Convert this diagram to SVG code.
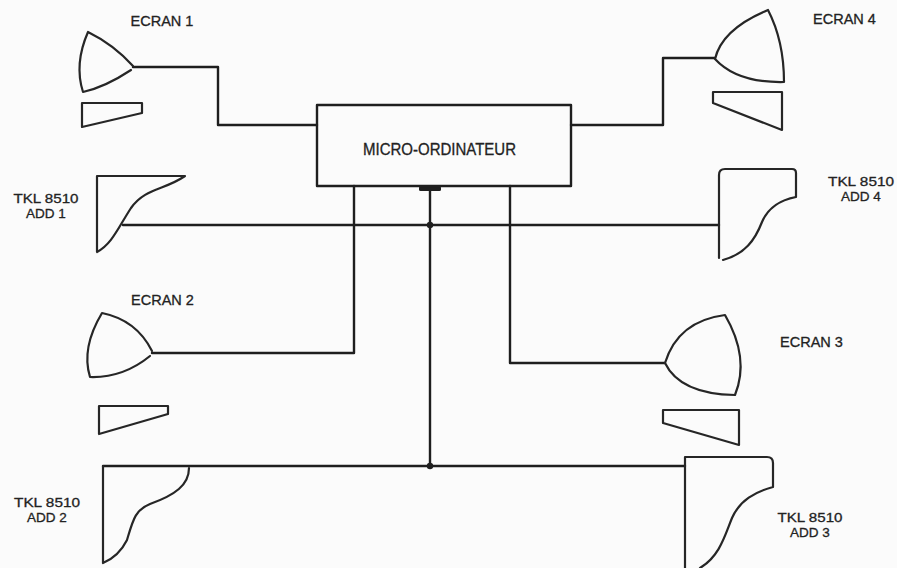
<svg xmlns="http://www.w3.org/2000/svg" width="897" height="568" viewBox="0 0 897 568">
  <style>
    .ln { fill: none; stroke: #1e1e1e; stroke-width: 2.4; stroke-linejoin: round; stroke-linecap: round; }
    .sh { fill: none; stroke: #262626; stroke-width: 2.2; stroke-linejoin: round; stroke-linecap: round; }
    .lbl { font-family: "Liberation Sans", Arial, sans-serif; font-size: 14.5px; fill: #222; stroke: #222; stroke-width: 0.3; text-anchor: middle; }
    .tkl { font-family: "Liberation Sans", Arial, sans-serif; font-size: 13.5px; fill: #222; stroke: #222; stroke-width: 0.3; text-anchor: middle; }
  </style>
  <rect width="897" height="568" fill="#fbfbfb"/>

  <!-- wiring -->
  <g id="connectors">
    <path class="ln" d="M133,67 H218 V125 H317"/>
    <path class="ln" d="M571,125 H663 V58 H715"/>
    <path class="ln" d="M354,186 V353 H152"/>
    <path class="ln" d="M510,186 V363 H665"/>
    <path class="ln" d="M430,188 V466"/>
    <path class="ln" d="M123,225 H719"/>
    <path class="ln" d="M103,466 H685"/>
    <rect x="419" y="186" width="22" height="5" rx="1.5" fill="#1e1e1e"/>
    <circle cx="430" cy="225" r="3.2" fill="#1e1e1e"/>
    <circle cx="430" cy="466" r="3.2" fill="#1e1e1e"/>
  </g>

  <!-- central computer -->
  <g id="micro">
    <rect class="ln" x="317" y="105" width="254" height="81"/>
    <text x="439.5" y="155" font-family="Liberation Sans, Arial, sans-serif" font-size="16" fill="#222" stroke="#222" stroke-width="0.3" text-anchor="middle" textLength="153" lengthAdjust="spacingAndGlyphs">MICRO-ORDINATEUR</text>
  </g>

  <!-- screen 1 with keyboard -->
  <g id="ecran1">
    <path class="sh" d="M133,66 Q113.5,44.5 88,32 Q74,64 83,92 Q105.3,87 131,70"/>
    <path class="sh" d="M82,103 H142 V113 L82,127 Z"/>
    <text class="lbl" x="162" y="26">ECRAN 1</text>
  </g>

  <!-- screen 4 with keyboard -->
  <g id="ecran4">
    <path class="sh" d="M715,59 Q722,29 768,10 Q784,41 784,82 Q737,83 715,59"/>
    <path class="sh" d="M713,92 H782 V130 L713,103 Z"/>
    <text class="lbl" x="844.5" y="24">ECRAN 4</text>
  </g>

  <!-- screen 2 with keyboard -->
  <g id="ecran2">
    <path class="sh" d="M152,351 Q136.5,320 102,313 Q81,348 90,377 Q123,378 150,356"/>
    <path class="sh" d="M99,406 H168 V414 L99,434 Z"/>
    <text class="lbl" x="162.5" y="305">ECRAN 2</text>
  </g>

  <!-- screen 3 with keyboard -->
  <g id="ecran3">
    <path class="sh" d="M665,363 Q678,321 725,315 Q750,358 735,395 Q680,394 665,363"/>
    <path class="sh" d="M663,410 H739 V445 L663,423 Z"/>
    <text class="lbl" x="811.5" y="347">ECRAN 3</text>
  </g>

  <!-- printer ADD 1 -->
  <g id="add1">
    <path class="sh" d="M97,252 V176 H185 C165,190 145,188 131,208 C118,228 112,244 97,252"/>
    <text class="tkl" x="46" y="203" textLength="65" lengthAdjust="spacingAndGlyphs">TKL 8510</text>
    <text class="tkl" x="46" y="218">ADD 1</text>
  </g>

  <!-- printer ADD 4 -->
  <g id="add4">
    <path class="sh" d="M719,258 V175 Q719,169 725,169 H792 Q796,169 796,173 V197 C780,200 768,208 762,222 C755,240 745,254 723,260"/>
    <text class="tkl" x="861" y="186" textLength="66" lengthAdjust="spacingAndGlyphs">TKL 8510</text>
    <text class="tkl" x="861" y="201">ADD 4</text>
  </g>

  <!-- printer ADD 2 -->
  <g id="add2">
    <path class="sh" d="M189,468 C189,485 175,495 150,504 C135,510 133,520 127,540 C122,550 115,558 103,563 V466"/>
    <text class="tkl" x="47" y="507" textLength="66" lengthAdjust="spacingAndGlyphs">TKL 8510</text>
    <text class="tkl" x="47" y="522">ADD 2</text>
  </g>

  <!-- printer ADD 3 -->
  <g id="add3">
    <path class="sh" d="M685,568 V457 H767 Q773,457 773,463 V487 C755,492 740,500 732,518 C725,535 720,556 700,568"/>
    <text class="tkl" x="810" y="522" textLength="65" lengthAdjust="spacingAndGlyphs">TKL 8510</text>
    <text class="tkl" x="810" y="537">ADD 3</text>
  </g>
</svg>
